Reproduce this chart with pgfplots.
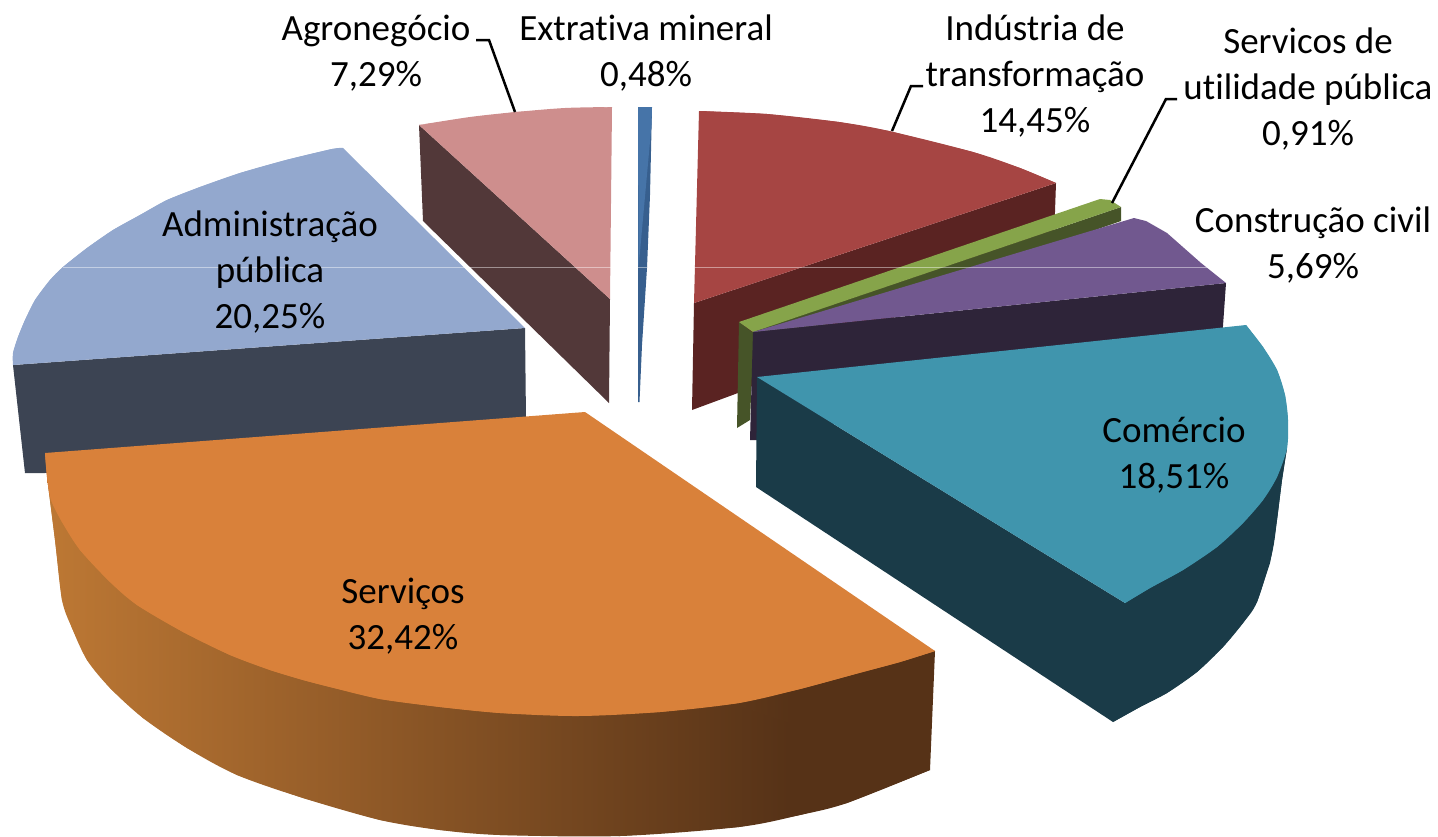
\documentclass[border=0pt]{standalone}
\usepackage{fontspec}
\setmainfont[Ligatures=NoCommon]{Carlito}
\usepackage{pgfplots}
\pgfplotsset{compat=1.18}
\definecolor{bluetop}{HTML}{4674A8}
\definecolor{blueside}{HTML}{375F8E}
\definecolor{redtop}{HTML}{A64543}
\definecolor{redside}{HTML}{5A2322}
\definecolor{greentop}{HTML}{86A44A}
\definecolor{greenside}{HTML}{465428}
\definecolor{purpletop}{HTML}{71588F}
\definecolor{purpleside}{HTML}{2E2439}
\definecolor{tealtop}{HTML}{4095AD}
\definecolor{tealside}{HTML}{1A3B48}
\definecolor{orangetop}{HTML}{D9813A}
\definecolor{orangeL}{HTML}{BD7834}
\definecolor{orangeD}{HTML}{563217}
\definecolor{admintop}{HTML}{93A8CE}
\definecolor{adminside}{HTML}{3C4453}
\definecolor{agrotop}{HTML}{CE8E8D}
\definecolor{agroside}{HTML}{523839}
\pgfdeclarehorizontalshading{orangeside}{100bp}{color(0bp)=(orangeL); color(25bp)=(orangeL); color(67bp)=(orangeD); color(100bp)=(orangeD)}
\newcommand{\lbl}[2]{\node[align=center,inner sep=0pt,font=\fontsize{37}{46}\selectfont,text=black] at (axis cs:#1) {#2};}
\begin{document}
\begin{tikzpicture}
\useasboundingbox (0,0) rectangle (1438pt,836pt);
\begin{axis}[
  at={(0,0)}, anchor=south west,
  scale only axis, width=1438pt, height=836pt,
  xmin=0, xmax=1438, ymin=0, ymax=836, y dir=reverse,
  axis lines=none, ticks=none, clip=true,
  every axis plot/.append style={draw=none, no markers, line width=0pt},
]
% Administracao publica
\addplot[fill=adminside] coordinates {(13,365)(525,328)(526,420)(45,473)(25,473)};
\addplot[fill=admintop] coordinates {(343,148)(525,328)(13,365)(13,353)(18,337)(25,320)(35,300)(50,280)(63,267)(87,248)(113,230)(140,215)(167,200)(200,187)(240,173)(286,160)(332,149)};
\addplot[fill=admintop, smooth] coordinates {(13,365)(13,353)(18,337)(25,320)(35,300)(50,280)(63,267)(87,248)(113,230)(140,215)(167,200)(200,187)(240,173)(286,160)(332,149)(343,148)};
% Agronegocio
\addplot[fill=agroside] coordinates {(419,125)(610,299)(609,403)(423,221)};
\addplot[fill=agrotop] coordinates {(419,125)(516,112)(612,107)(610,299)};
\addplot[fill=agrotop, smooth] coordinates {(419,125)(470,117)(516,112)(565,108)(612,107)};
% Extrativa mineral
\addplot[fill=blueside] coordinates {(638,107)(652,107)(650,195)(647,268)(642,345)(639.5,402)(638,402)};
\addplot[fill=bluetop] coordinates {(638,107)(652,107)(651.5,125)(638.5,268)};
% Industria de transformacao
\addplot[fill=redside] coordinates {(694,303)(1056,183)(1054,240)(738,393)(692,410)};
\addplot[fill=redtop] coordinates {(699,111)(767,114)(839,122)(889,131)(973,152)(1020,168)(1056,183)(694,303)};
\addplot[fill=redtop, smooth] coordinates {(699,111)(767,114)(839,122)(889,131)(973,152)(1020,168)(1056,183)};
% Servicos de utilidade publica
\addplot[fill=greenside] coordinates {(739,322)(752,332)(1121,207)(1121,221)(753,350)(750,420)(737,428)};
\addplot[fill=greentop] coordinates {(739,322)(1100,199)(1110,200)(1121,207)(753,332)};
% Construcao civil
\addplot[fill=purpleside] coordinates {(753,332)(1226,283)(1222,340)(757,440)(750,440)};
\addplot[fill=purpletop] coordinates {(753,332)(1134,218)(1146,221)(1167,233)(1201,263)(1226,283)};
% Comercio
\addplot[fill=tealside] coordinates {(757,377)(1125,603)(1287,448)(1282,480)(1277,520)(1272,553)(1270,563)(1257,602)(1243,623)(1223,647)(1197,672)(1167,693)(1140,707)(1113,722)(756,487)};
\addplot[fill=tealside, smooth] coordinates {(1287,448)(1282,480)(1277,520)(1272,553)(1257,602)(1243,623)(1223,647)(1197,672)(1167,693)(1140,707)(1113,722)};
\addplot[fill=tealtop] coordinates {(757,377)(1246,325)(1263,347)(1277,370)(1285,395)(1288,420)(1287,448)(1277,477)(1263,500)(1243,523)(1217,547)(1183,570)(1150,588)(1125,603)};
\addplot[fill=tealtop, smooth] coordinates {(1246,325)(1263,347)(1277,370)(1285,395)(1288,420)(1287,448)(1277,477)(1263,500)(1243,523)(1217,547)(1183,570)(1150,588)(1125,603)};
% Servicos
\addplot[shading=orangeside] coordinates {(47,477)(935,651)(930,770)(847,803)(800,815)(739,827)(620,836)(500,835)(440,830)(380,820)(303,798)(237,775)(187,748)(143,718)(110,688)(87,660)(72,628)(62,600)(55,540)};
\addplot[shading=orangeside, smooth] coordinates {(47,477)(55,540)(62,600)(72,628)(87,660)(110,688)(143,718)(187,748)(237,775)(303,798)(380,820)(440,830)(500,835)(620,836)(739,827)(800,815)(847,803)(930,770)};
\addplot[fill=orangetop] coordinates {(45,453)(585,412)(935,651)(900,662)(859,673)(800,689)(739,703)(660,712)(578,716)(500,713)(440,707)(380,699)(330,687)(303,680)(270,670)(230,655)(183,632)(137,605)(110,582)(80,550)(62,522)(51,500)(47,477)};
\addplot[fill=orangetop, smooth] coordinates {(935,651)(900,662)(859,673)(800,689)(739,703)(660,712)(578,716)(500,713)(440,707)(380,699)(330,687)(303,680)(270,670)(230,655)(183,632)(137,605)(110,582)(80,550)(62,522)(51,500)(47,477)(45,453)};
% thin pale line across the upper slices
\addplot[draw=white, draw opacity=0.45, line width=1pt] coordinates {(63,267)(612,267)};
\addplot[draw=white, draw opacity=0.45, line width=1pt] coordinates {(638,267)(647,267)};
\addplot[draw=white, draw opacity=0.45, line width=1pt] coordinates {(694,267)(1209,267)};
% leader lines
\addplot[draw=black, line width=2.5pt] coordinates {(476,40)(489,40)(515,112)};
\addplot[draw=black, line width=2.5pt] coordinates {(923,86)(911,86)(892,131)};
\addplot[draw=black, line width=2.5pt] coordinates {(1177,99)(1166,99)(1112,203)};
% labels
\lbl{646,53}{Extrativa mineral\\0,48\%}
\lbl{376,53}{Agronegócio\\7,29\%}
\lbl{1035,76}{Indústria de\\transformação\\14,45\%}
\lbl{1308,89}{Servicos de\\utilidade pública\\0,91\%}
\lbl{1313,245}{Construção civil\\5,69\%}
\lbl{1174,455}{Comércio\\18,51\%}
\lbl{270,272}{Administração\\pública\\20,25\%}
\lbl{403,616}{Serviços\\32,42\%}
\end{axis}
\end{tikzpicture}
\end{document}
